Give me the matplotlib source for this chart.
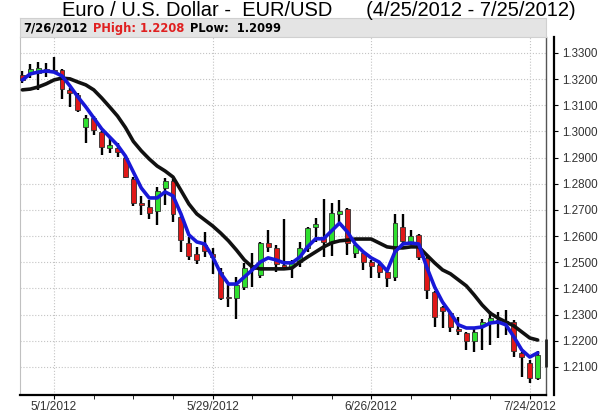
import matplotlib
matplotlib.use("Agg")
import matplotlib.pyplot as plt
import numpy as np
import pandas as pd

plt.rcParams['font.family'] = ['Liberation Sans', 'DejaVu Sans']

# EUR/USD daily candles, 4/25/2012 - 7/25/2012
start_date = "2012-04-25"
end_date = "2012-07-25"

opens = [1.3215, 1.3222, 1.3225, 1.3240, 1.3235, 1.3236, 1.3160, 1.3140, 1.3017, 1.3052,
         1.2998, 1.2935, 1.2935, 1.2900, 1.2820, 1.2725, 1.2712, 1.2697, 1.2785, 1.2810,
         1.2672, 1.2572, 1.2532, 1.2566, 1.2530, 1.2462, 1.2368, 1.2365, 1.2407, 1.2490,
         1.2453, 1.2575, 1.2555, 1.2490, 1.2483, 1.2502, 1.2556, 1.2636, 1.2593, 1.2578,
         1.2686, 1.2704, 1.2537, 1.2536, 1.2502, 1.2488, 1.2464, 1.2445, 1.2635, 1.2579,
         1.2604, 1.2517, 1.2387, 1.2330, 1.2306, 1.2245, 1.2230, 1.2200, 1.2262, 1.2272,
         1.2280, 1.2275, 1.2272, 1.2153, 1.2115, 1.2058]
highs = [1.3232, 1.3258, 1.3266, 1.3262, 1.3283, 1.3240, 1.3165, 1.3148, 1.3063, 1.3060,
         1.3002, 1.2975, 1.2955, 1.2904, 1.2825, 1.2754, 1.2738, 1.2788, 1.2822, 1.2818,
         1.2676, 1.2598, 1.2560, 1.2616, 1.2555, 1.2480, 1.2413, 1.2443, 1.2497, 1.2536,
         1.2578, 1.2624, 1.2566, 1.2666, 1.2510, 1.2578, 1.2635, 1.2670, 1.2742, 1.2727,
         1.2738, 1.2708, 1.2572, 1.2540, 1.2510, 1.2497, 1.2470, 1.2685, 1.2685, 1.2624,
         1.2610, 1.2525, 1.2392, 1.2335, 1.2310, 1.2290, 1.2235, 1.2245, 1.2285, 1.2315,
         1.2310, 1.2318, 1.2280, 1.2158, 1.2125, 1.2160]
lows = [1.3185, 1.3205, 1.3160, 1.3208, 1.3222, 1.3124, 1.3094, 1.3075, 1.2956, 1.2987,
        1.2910, 1.2918, 1.2903, 1.2822, 1.2714, 1.2681, 1.2666, 1.2643, 1.2719, 1.2654,
        1.2540, 1.2510, 1.2494, 1.2520, 1.2456, 1.2355, 1.2329, 1.2284, 1.2395, 1.2406,
        1.2440, 1.2540, 1.2463, 1.2478, 1.2440, 1.2484, 1.2540, 1.2578, 1.2522, 1.2525,
        1.2654, 1.2528, 1.2517, 1.2471, 1.2440, 1.2440, 1.2406, 1.2430, 1.2566, 1.2566,
        1.2510, 1.2360, 1.2253, 1.2249, 1.2234, 1.2222, 1.2165, 1.2157, 1.2165, 1.2185,
        1.2210, 1.2222, 1.2140, 1.2062, 1.2040, 1.2050]
closes = [1.3198, 1.3238, 1.3242, 1.3236, 1.3232, 1.3163, 1.3148, 1.3083, 1.3052, 1.3006,
          1.2942, 1.2948, 1.2922, 1.2827, 1.2728, 1.2718, 1.2690, 1.2772, 1.2810, 1.2686,
          1.2587, 1.2525, 1.2510, 1.2545, 1.2522, 1.2365, 1.2362, 1.2412, 1.2480, 1.2476,
          1.2573, 1.2560, 1.2492, 1.2484, 1.2497, 1.2554, 1.2630, 1.2646, 1.2576, 1.2688,
          1.2697, 1.2575, 1.2565, 1.2502, 1.2487, 1.2464, 1.2441, 1.2650, 1.2583, 1.2600,
          1.2520, 1.2395, 1.2291, 1.2314, 1.2253, 1.2238, 1.2200, 1.2234, 1.2272, 1.2288,
          1.2274, 1.2268, 1.2162, 1.2138, 1.2058, 1.2146]

# moving averages as drawn on the chart
ma_fast = [1.3197, 1.3220, 1.3227, 1.3231, 1.3227, 1.3212, 1.3174, 1.3132, 1.3094, 1.3052,
           1.3010, 1.2979, 1.2948, 1.2906, 1.2845, 1.2784, 1.2746, 1.2746, 1.2769, 1.2754,
           1.2685, 1.2605, 1.2578, 1.2570, 1.2521, 1.2459, 1.2417, 1.2417, 1.2444, 1.2471,
           1.2501, 1.2517, 1.2509, 1.2498, 1.2498, 1.2520, 1.2560, 1.2590, 1.2590, 1.2620,
           1.2650, 1.2616, 1.2570, 1.2540, 1.2517, 1.2501, 1.2467, 1.2540, 1.2570, 1.2574,
           1.2570, 1.2482, 1.2406, 1.2348, 1.2306, 1.2261, 1.2249, 1.2249, 1.2253, 1.2268,
           1.2272, 1.2261, 1.2215, 1.2165, 1.2138, 1.2154]
ma_slow = [1.3159, 1.3162, 1.3170, 1.3182, 1.3197, 1.3204, 1.3201, 1.3189, 1.3178, 1.3159,
           1.3128, 1.3094, 1.3059, 1.3015, 1.2962, 1.2926, 1.2895, 1.2868, 1.2849, 1.2826,
           1.2775, 1.2723, 1.2685, 1.2662, 1.2639, 1.2612, 1.2582, 1.2547, 1.2509, 1.2482,
           1.2475, 1.2475, 1.2475, 1.2475, 1.2478, 1.2501, 1.2521, 1.2540, 1.2559, 1.2574,
           1.2582, 1.2585, 1.2589, 1.2589, 1.2589, 1.2574, 1.2559, 1.2555, 1.2555, 1.2559,
           1.2559, 1.2528, 1.2498, 1.2471, 1.2456, 1.2433, 1.2410, 1.2375, 1.2337, 1.2306,
           1.2287, 1.2272, 1.2257, 1.2234, 1.2211, 1.2203]

tick_dates = ["2012-05-01", "2012-05-29", "2012-06-26", "2012-07-24"]

next_day = "7/26/2012"
next_high = 1.2208
next_low = 1.2099

title = "Euro / U.S. Dollar -  EUR/USD      (4/25/2012 - 7/25/2012)"


def plot():
    dates = pd.bdate_range(start_date, end_date)
    x = np.arange(len(dates))
    o = np.array(opens)
    c = np.array(closes)

    fig = plt.figure(figsize=(6, 4.13), dpi=100)
    W, H = 600, 413
    ax = fig.add_axes([20 / W, 18 / H, 526 / W, 358 / H])
    hx = fig.add_axes([20 / W, 376 / H, 526 / W, 19 / H])

    # candles
    up = c >= o
    colors = np.where(up, '#2fe02f', '#e01818')
    bottoms = np.minimum(o, c)
    heights = np.maximum(np.abs(c - o), 0.0004)
    ax.vlines(x, lows, highs, color='black', lw=1.7, zorder=2)
    ax.bar(x, heights, bottom=bottoms, width=0.62, color=colors,
           edgecolor='#303030', linewidth=0.6, zorder=3)

    ax.plot(x, ma_slow, color='#111111', lw=2.6, zorder=4, solid_capstyle='round')
    ax.plot(x, ma_fast, color='#1818d8', lw=2.6, zorder=5, solid_capstyle='round')

    # projected range for the next day
    ax.vlines(len(dates), next_low, next_high, color='#222222', lw=2,
              clip_on=False, zorder=6)

    ax.set_xlim(-0.3, len(dates) + 0.05)
    ax.set_ylim(1.1993, 1.3361)

    major = [dates.get_loc(pd.Timestamp(d)) for d in tick_dates]
    ax.set_xticks(major)
    ax.set_xticklabels([f"{pd.Timestamp(d).month}/{pd.Timestamp(d).day}/{pd.Timestamp(d).year}"
                        for d in tick_dates])
    ax.set_xticks(x[dates.dayofweek == 1], minor=True)
    yt = np.arange(1.21, 1.3351, 0.01)
    ax.set_yticks(yt)
    ax.set_yticklabels([f"{v:.4f}" for v in yt])

    ax.yaxis.tick_right()
    ax.tick_params(axis='y', length=3, labelsize=8.4, pad=3, labelcolor='#333333')
    ax.tick_params(axis='x', which='both', length=3, labelsize=8.6, pad=1.5,
                   labelcolor='#333333')

    ax.grid(True, which='major', linestyle=':', color='#c4c4c4', lw=0.8)
    ax.set_axisbelow(True)

    ax.spines['top'].set_visible(False)
    ax.spines['left'].set_color('#c0c0c0')
    ax.spines['left'].set_linewidth(0.8)
    ax.spines['bottom'].set_linewidth(1.6)
    ax.spines['right'].set_linewidth(1.6)
    ax.spines['right'].set_position(('outward', 6))
    ax.plot([1, 1], [0, 1], transform=ax.transAxes, color='#555555', lw=1,
            clip_on=False)

    # header strip
    hx.set_facecolor('#e4e4e4')
    hx.set_xticks([])
    hx.set_yticks([])
    for s in hx.spines.values():
        s.set_color('#d0d0d0')
    hfont = dict(family=['DejaVu Sans'], fontweight='bold', fontsize=8.3)
    t1 = hx.text(0.006, 0.45, next_day, transform=hx.transAxes, va='center',
                 **hfont)
    t2 = hx.annotate(f"PHigh: {next_high:.4f}", xy=(1, 0), xycoords=t1,
                     xytext=(4, 0), textcoords='offset points', va='bottom',
                     color='#e02020', **hfont)
    hx.annotate(f"PLow:  {next_low:.4f}", xy=(1, 0), xycoords=t2,
                xytext=(4, 0), textcoords='offset points', va='bottom',
                color='black', **hfont)

    fig.text(62 / W, 1 - 11 / H, title, va='center', ha='left', fontsize=14.5)

    fig.savefig("out.png", dpi=100)


if __name__ == "__main__":
    plot()
